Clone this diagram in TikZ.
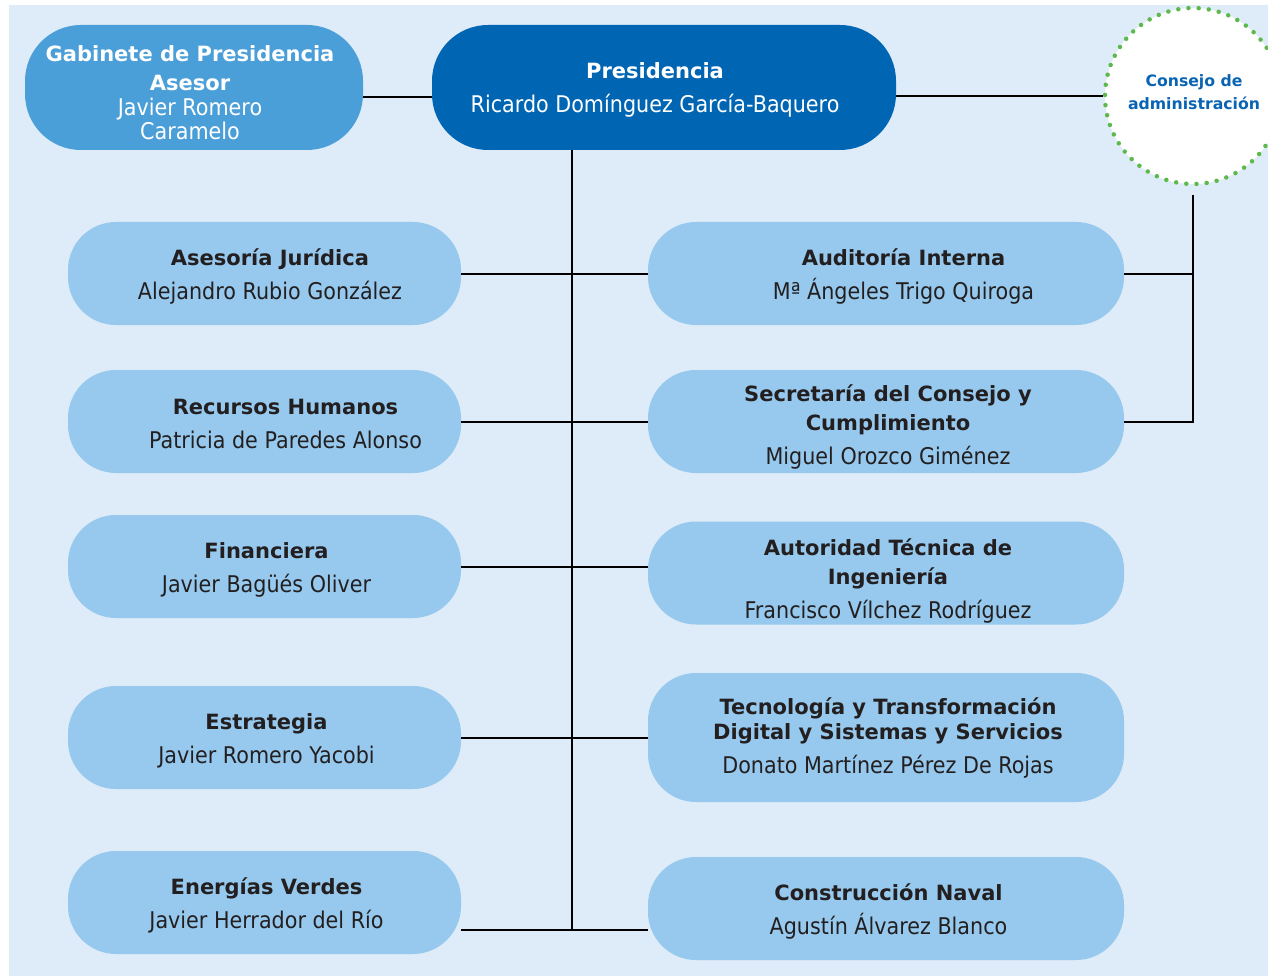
\documentclass[tikz,border=0pt]{standalone}
\usepackage{fontspec}
\setmainfont{DejaVu Sans}
\newfontfamily\nmfont[FakeStretch=0.9]{DejaVu Sans}
\definecolor{bgblue}{HTML}{DEEBF8}
\definecolor{boxblue}{HTML}{96C9ED}
\definecolor{gabblue}{HTML}{4B9FD9}
\definecolor{presblue}{HTML}{0065B3}
\definecolor{textdark}{HTML}{231F20}
\definecolor{dotgreen}{HTML}{5DB94B}
\definecolor{consblue}{HTML}{0A64B4}
\newcommand\ttl{\fontsize{21}{29}\selectfont\bfseries}
\newcommand\nme{\nmfont\fontsize{23}{29}\selectfont}
\tikzset{
  orgbox/.style={draw=none, fill=boxblue, inner sep=0pt, rounded corners=48pt},
  lbox/.style={orgbox, minimum width=393pt, minimum height=103pt},
  rbox/.style={orgbox, minimum width=476pt, minimum height=103pt},
  topbox/.style={orgbox, rounded corners=56pt, minimum height=125pt},
  txt/.style={align=center, inner sep=0pt, text=textdark, font=\fontsize{21}{29}\selectfont},
  wtxt/.style={txt, text=white},
  link/.style={draw=black, line width=2pt},
}
\begin{document}
\begin{tikzpicture}[x=1pt, y=-1pt]
\useasboundingbox (0,0) rectangle (1268,976);
\fill[white] (0,0) rectangle (1268,976);
\fill[bgblue] (9,5) rectangle (1268,976);

% top row
\node[topbox, fill=gabblue, minimum width=338pt] (gab) at (194,87.5) {};
\node[wtxt] (gabt) at (190,93)
  {{\ttl Gabinete de Presidencia}\\[0pt]{\ttl Asesor}\\[-4pt]{\nme Javier Romero}\\[-5pt]{\nme Caramelo}};
\node[topbox, fill=presblue, minimum width=464pt] (pres) at (664,87.5) {};
\node[wtxt] (prest) at (655,89.5)
  {{\ttl Presidencia}\\[5pt]{\nme Ricardo Domínguez García-Baquero}};
\node[circle, fill=white, minimum size=176pt, inner sep=0pt,
  draw=dotgreen, line width=4.5pt, line cap=round, dash pattern=on 0pt off 10.2pt] (cons) at (1193,96) {};
\node[txt, text=consblue, font=\fontsize{15.7}{23}\selectfont\bfseries] (const) at (1194,92)
  {Consejo de\\administración};

% left column
\node[lbox] (aj) at (264.5,273.5) {};
\node[txt] (ajt) at (270,276.5) {{\ttl Asesoría Jurídica}\\[5pt]{\nme Alejandro Rubio González}};
\node[lbox] (rh) at (264.5,421.5) {};
\node[txt] (rht) at (285.5,424.5) {{\ttl Recursos Humanos}\\[5pt]{\nme Patricia de Paredes Alonso}};
\node[lbox] (fi) at (264.5,566.5) {};
\node[txt] (fit) at (266.5,569.5) {{\ttl Financiera}\\[5pt]{\nme Javier Bagüés Oliver}};
\node[lbox] (es) at (264.5,737.5) {};
\node[txt] (est) at (266.5,740.5) {{\ttl Estrategia}\\[5pt]{\nme Javier Romero Yacobi}};
\node[lbox] (ev) at (264.5,902.5) {};
\node[txt] (evt) at (266.5,905.5) {{\ttl Energías Verdes}\\[5pt]{\nme Javier Herrador del Río}};

% right column
\node[rbox] (ai) at (886,273.5) {};
\node[txt] (ait) at (903.5,276.5) {{\ttl Auditoría Interna}\\[5pt]{\nme Mª Ángeles Trigo Quiroga}};
\node[rbox] (sc) at (886,421.5) {};
\node[txt] (sct) at (888,426.5) {{\ttl Secretaría del Consejo y}\\{\ttl Cumplimiento}\\[5pt]{\nme Miguel Orozco Giménez}};
\node[rbox] (at) at (886,573) {};
\node[txt] (att) at (888,580.5) {{\ttl Autoridad Técnica de}\\{\ttl Ingeniería}\\[5pt]{\nme Francisco Vílchez Rodríguez}};
\node[rbox, minimum height=129pt] (tec) at (886,737.5) {};
\node[txt] (tect) at (888,737.5) {{\ttl Tecnología y Transformación}\\[-4pt]{\ttl Digital y Sistemas y Servicios}\\[5pt]{\nme Donato Martínez Pérez De Rojas}};
\node[rbox] (cn) at (886,908.5) {};
\node[txt] (cnt) at (888.5,911.5) {{\ttl Construcción Naval}\\[5pt]{\nme Agustín Álvarez Blanco}};

% connectors
\coordinate (tb) at (572,930);
\draw[link] ([yshift=-9.5pt]gab.east) -- ([yshift=-9.5pt]pres.west);
\draw[link] (cons.west -| pres.east) -- (cons.west);
\draw[link] (pres.south -| tb) -- (tb);
\draw[link] (aj.east) -- (ai.west);
\draw[link] (rh.east) -- (sc.west);
\draw[link] (fi.east) -- (fi.east -| at.west);
\draw[link] (es.east) -- (tec.west);
\draw[link] (tb -| ev.east) -- (tb) -- (tb -| cn.west);
\draw[link] ([yshift=-9pt]cons.south) -- (cons.south |- sc.east) -- (sc.east);
\draw[link] (ai.east) -- (ai.east -| cons.south);
\end{tikzpicture}
\end{document}
